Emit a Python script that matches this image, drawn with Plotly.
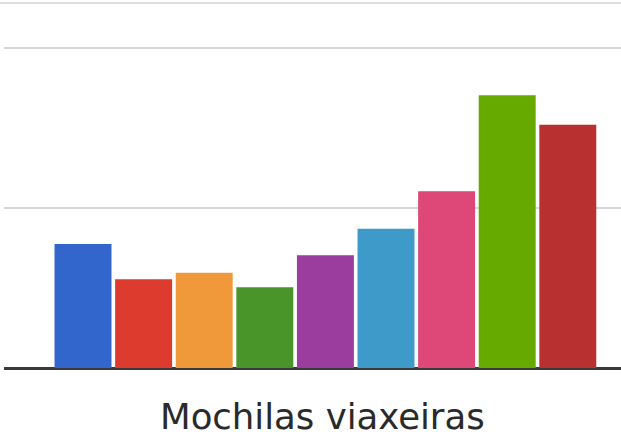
import plotly.graph_objects as go

# data (one gridline step = 10)
positions = [0, 1, 2, 3, 4, 5, 6, 7, 8]
values = [7.75, 5.55, 5.95, 5.05, 7.05, 8.7, 11.05, 17.05, 15.2]
colors = ["#3366CC", "#DC3B2E", "#F0993A", "#4A952A", "#9A3D9E",
          "#3D9AC9", "#DD4878", "#66AA00", "#B83030"]
title_text = "Mochilas viaxeiras"

fig = go.Figure()
fig.add_trace(go.Bar(
    x=positions, y=values,
    marker=dict(color=colors, line=dict(width=0)),
    width=0.94,
    hoverinfo="skip",
))

fig.update_layout(
    width=621, height=439,
    margin=dict(l=4, r=0, t=0, b=59),
    paper_bgcolor="white", plot_bgcolor="white",
    showlegend=False,
    font=dict(family="DejaVu Sans", color="#222222"),
    shapes=[
        dict(type="line", xref="paper", yref="paper",
             x0=-0.01, x1=1, y0=0.992, y1=0.992,
             line=dict(color="#DDDDDD", width=2)),
    ],
    annotations=[
        dict(text=title_text, xref="paper", yref="paper",
             x=0.517, y=-0.038, xanchor="center", yanchor="top",
             showarrow=False, font=dict(size=35.5, color="#2A2A2A")),
    ],
)

fig.update_xaxes(range=[-1.304, 8.878], showgrid=False, showticklabels=False,
                 zeroline=False, showline=False, ticks="")
fig.update_yaxes(range=[-0.75, 23], tickvals=[0, 10, 20], showticklabels=False,
                 gridcolor="#D6D6D6", gridwidth=2,
                 zeroline=True, zerolinecolor="#3A3A3A", zerolinewidth=3,
                 showline=False, ticks="")

# page body has an 8px default margin; remove it so the figure fills the window
fig.write_html("out.html", config={"displayModeBar": False},
               post_script="document.body.style.margin='0';document.body.style.overflow='hidden';")
